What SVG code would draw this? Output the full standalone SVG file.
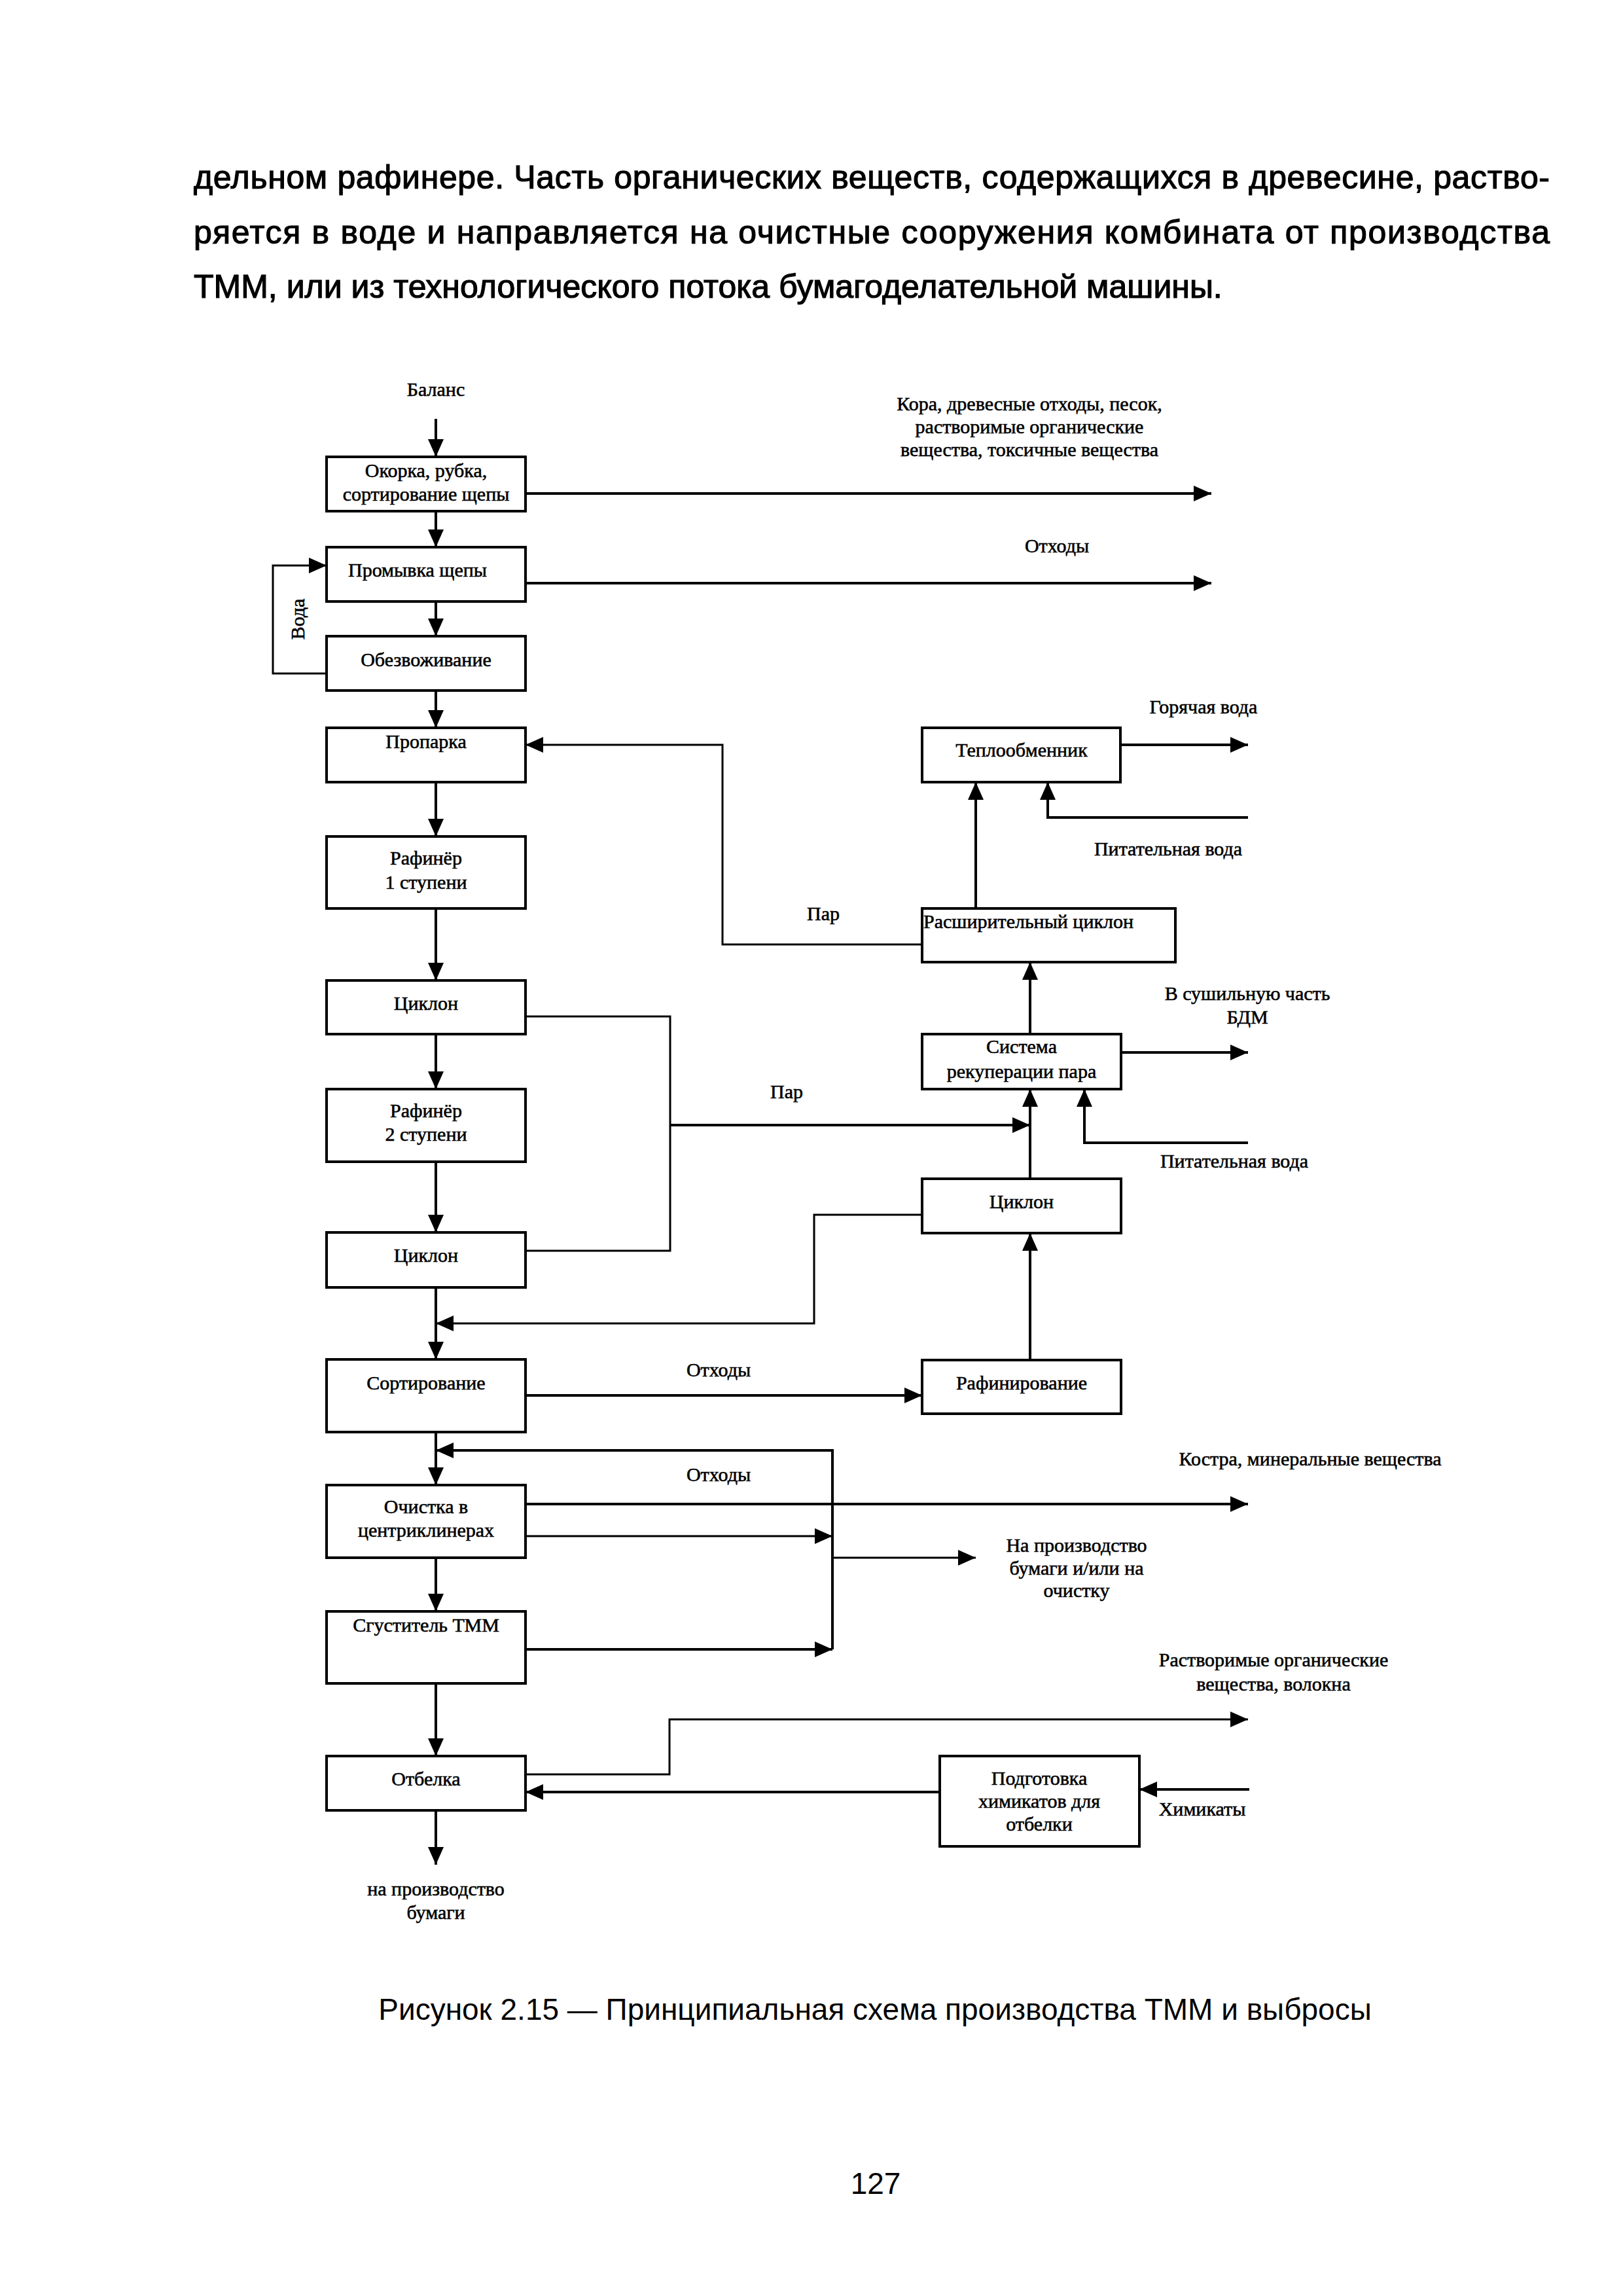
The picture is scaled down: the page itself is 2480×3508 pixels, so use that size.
<svg xmlns="http://www.w3.org/2000/svg" width="2480" height="3508" viewBox="0 0 2480 3508">
<style>
.bg{fill:#fff}
.box{fill:none;stroke:#000;stroke-width:4}
.ln{fill:none;stroke:#000;stroke-width:4}
.thin{stroke-width:3}
.t{font-family:"Liberation Serif","Times New Roman",serif;font-size:30px;fill:#000;text-anchor:middle;stroke:#000;stroke-width:0.6}
.tl{text-anchor:start}
.p{font-family:"Liberation Sans",Arial,sans-serif;font-size:50px;fill:#000;stroke:#000;stroke-width:1.2}
.cap{font-family:"Liberation Sans",Arial,sans-serif;font-size:46px;fill:#000;text-anchor:middle}
</style>
<defs>
<marker id="ah" markerUnits="userSpaceOnUse" markerWidth="28" markerHeight="24" refX="27" refY="12" orient="auto"><path d="M0,0 L27,12 L0,24 Z" fill="#000"/></marker>
</defs>
<rect class="bg" x="0" y="0" width="2480" height="3508"/>

<g id="paragraph">
<text class="p" x="296" y="288" textLength="2072" lengthAdjust="spacing">дельном рафинере. Часть органических веществ, содержащихся в древесине, раство-</text>
<text class="p" x="296" y="372" textLength="2072" lengthAdjust="spacing">ряется в воде и направляется на очистные сооружения комбината от производства</text>
<text class="p" x="296" y="455">ТММ, или из технологического потока бумагоделательной машины.</text>
</g>

<g id="connectors">
<path class="ln" d="M666,640 V698" marker-end="url(#ah)"/>
<path class="ln" d="M666,781 V836" marker-end="url(#ah)"/>
<path class="ln" d="M666,919 V972" marker-end="url(#ah)"/>
<path class="ln" d="M666,1055 V1112" marker-end="url(#ah)"/>
<path class="ln" d="M666,1195 V1278" marker-end="url(#ah)"/>
<path class="ln" d="M666,1388 V1498" marker-end="url(#ah)"/>
<path class="ln" d="M666,1580 V1664" marker-end="url(#ah)"/>
<path class="ln" d="M666,1775 V1883" marker-end="url(#ah)"/>
<path class="ln" d="M666,1967 V2077" marker-end="url(#ah)"/>
<path class="ln" d="M666,2188 V2269" marker-end="url(#ah)"/>
<path class="ln" d="M666,2380 V2462" marker-end="url(#ah)"/>
<path class="ln" d="M666,2572 V2683" marker-end="url(#ah)"/>
<path class="ln" d="M666,2766 V2849" marker-end="url(#ah)"/>

<path class="ln" d="M803,754 H1851" marker-end="url(#ah)"/>
<path class="ln" d="M803,891 H1851" marker-end="url(#ah)"/>
<path class="ln thin" d="M499,1029 H417 V864 H499" marker-end="url(#ah)"/>

<path class="ln" d="M1712,1138 H1907" marker-end="url(#ah)"/>
<path class="ln" d="M1907,1249 H1601 V1195" marker-end="url(#ah)"/>
<path class="ln" d="M1491,1388 V1195" marker-end="url(#ah)"/>
<path class="ln thin" d="M1409,1443 H1104 V1138 H803" marker-end="url(#ah)"/>
<path class="ln" d="M1574,1580 V1470" marker-end="url(#ah)"/>
<path class="ln" d="M1713,1608 H1907" marker-end="url(#ah)"/>
<path class="ln" d="M1907,1746 H1657 V1664" marker-end="url(#ah)"/>
<path class="ln" d="M1574,1801 V1664" marker-end="url(#ah)"/>
<path class="ln thin" d="M803,1553 H1024 V1911 H803"/>
<path class="ln" d="M1024,1719 H1574" marker-end="url(#ah)"/>
<path class="ln thin" d="M1409,1856 H1244 V2022 H666" marker-end="url(#ah)"/>
<path class="ln" d="M1574,2078 V1884" marker-end="url(#ah)"/>
<path class="ln" d="M803,2132 H1409" marker-end="url(#ah)"/>

<path class="ln" d="M803,2298 H1907" marker-end="url(#ah)"/>
<path class="ln thin" d="M803,2347 H1272" marker-end="url(#ah)"/>
<path class="ln" d="M803,2520 H1272" marker-end="url(#ah)"/>
<path class="ln" d="M1272,2520 V2216 H666" marker-end="url(#ah)"/>
<path class="ln thin" d="M1272,2380 H1491" marker-end="url(#ah)"/>
<path class="ln thin" d="M803,2711 H1023 V2627 H1907" marker-end="url(#ah)"/>
<path class="ln" d="M1436,2738 H803" marker-end="url(#ah)"/>
<path class="ln" d="M1909,2734 H1741" marker-end="url(#ah)"/>
</g>

<g id="n-okorka"><rect class="box" x="499" y="698" width="304" height="83"/>
<text class="t" x="651" y="729">Окорка, рубка,</text><text class="t" x="651" y="765">сортирование щепы</text></g>
<g id="n-promyvka"><rect class="box" x="499" y="836" width="304" height="83"/>
<text class="t" x="638" y="881">Промывка щепы</text></g>
<g id="n-obezvozh"><rect class="box" x="499" y="972" width="304" height="83"/>
<text class="t" x="651" y="1018">Обезвоживание</text></g>
<g id="n-proparka"><rect class="box" x="499" y="1112" width="304" height="83"/>
<text class="t" x="651" y="1143">Пропарка</text></g>
<g id="n-raf1"><rect class="box" x="499" y="1278" width="304" height="110"/>
<text class="t" x="651" y="1321">Рафинёр</text><text class="t" x="651" y="1358">1 ступени</text></g>
<g id="n-cyclon1"><rect class="box" x="499" y="1498" width="304" height="82"/>
<text class="t" x="651" y="1543">Циклон</text></g>
<g id="n-raf2"><rect class="box" x="499" y="1664" width="304" height="111"/>
<text class="t" x="651" y="1707">Рафинёр</text><text class="t" x="651" y="1743">2 ступени</text></g>
<g id="n-cyclon2"><rect class="box" x="499" y="1883" width="304" height="84"/>
<text class="t" x="651" y="1928">Циклон</text></g>
<g id="n-sort"><rect class="box" x="499" y="2077" width="304" height="111"/>
<text class="t" x="651" y="2123">Сортирование</text></g>
<g id="n-ochistka"><rect class="box" x="499" y="2269" width="304" height="111"/>
<text class="t" x="651" y="2312">Очистка в</text><text class="t" x="651" y="2348">центриклинерах</text></g>
<g id="n-sgust"><rect class="box" x="499" y="2462" width="304" height="110"/>
<text class="t" x="651" y="2493">Сгуститель ТММ</text></g>
<g id="n-otbelka"><rect class="box" x="499" y="2683" width="304" height="83"/>
<text class="t" x="651" y="2728">Отбелка</text></g>

<g id="n-teplo"><rect class="box" x="1409" y="1112" width="303" height="83"/>
<text class="t" x="1561" y="1156">Теплообменник</text></g>
<g id="n-rasshir"><rect class="box" x="1409" y="1388" width="387" height="82"/>
<text class="t tl" x="1411" y="1418">Расширительный циклон</text></g>
<g id="n-sistema"><rect class="box" x="1409" y="1580" width="304" height="84"/>
<text class="t" x="1561" y="1609">Система</text><text class="t" x="1561" y="1647">рекуперации пара</text></g>
<g id="n-cyclon3"><rect class="box" x="1409" y="1801" width="304" height="83"/>
<text class="t" x="1561" y="1846">Циклон</text></g>
<g id="n-rafinir"><rect class="box" x="1409" y="2078" width="304" height="82"/>
<text class="t" x="1561" y="2123">Рафинирование</text></g>
<g id="n-podgot"><rect class="box" x="1436" y="2683" width="305" height="138"/>
<text class="t" x="1588" y="2727">Подготовка</text><text class="t" x="1588" y="2762">химикатов для</text><text class="t" x="1588" y="2797">отбелки</text></g>

<g id="labels">
<text class="t" x="666" y="605">Баланс</text>
<text class="t" x="1573" y="627">Кора, древесные отходы, песок,</text>
<text class="t" x="1573" y="662">растворимые органические</text>
<text class="t" x="1573" y="697">вещества, токсичные вещества</text>
<text class="t" x="1615" y="844">Отходы</text>
<text class="t" transform="translate(465,946) rotate(-90)" x="0" y="0">Вода</text>
<text class="t" x="1839" y="1090">Горячая вода</text>
<text class="t" x="1785" y="1307">Питательная вода</text>
<text class="t" x="1258" y="1406">Пар</text>
<text class="t" x="1906" y="1528">В сушильную часть</text>
<text class="t" x="1906" y="1564">БДМ</text>
<text class="t" x="1202" y="1678">Пар</text>
<text class="t" x="1886" y="1784">Питательная вода</text>
<text class="t" x="1098" y="2103">Отходы</text>
<text class="t" x="1098" y="2263">Отходы</text>
<text class="t" x="2002" y="2239">Костра, минеральные вещества</text>
<text class="t" x="1645" y="2371">На производство</text>
<text class="t" x="1645" y="2406">бумаги и/или на</text>
<text class="t" x="1645" y="2440">очистку</text>
<text class="t" x="1946" y="2546">Растворимые органические</text>
<text class="t" x="1946" y="2583">вещества, волокна</text>
<text class="t" x="1837" y="2774">Химикаты</text>
<text class="t" x="666" y="2896">на производство</text>
<text class="t" x="666" y="2932">бумаги</text>
</g>

<g id="caption">
<text class="cap" x="1337" y="3086">Рисунок 2.15 — Принципиальная схема производства ТММ и выбросы</text>
<text class="cap" x="1338" y="3352">127</text>
</g>
</svg>
